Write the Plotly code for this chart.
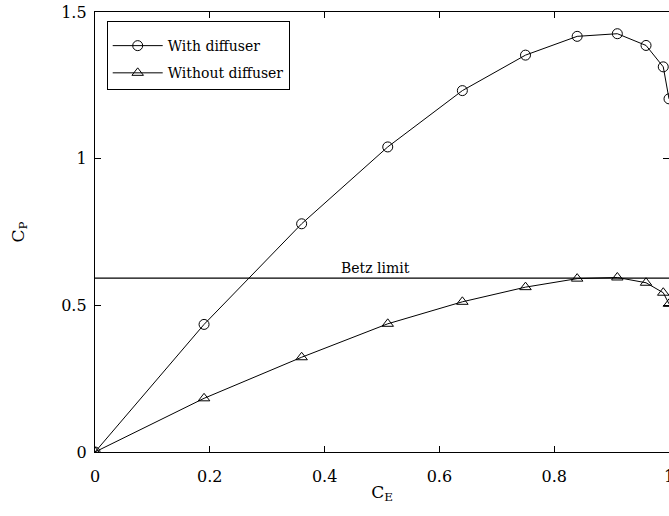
import plotly.graph_objects as go

# Data
ce = [0.0, 0.19, 0.36, 0.51, 0.64, 0.75, 0.84, 0.91, 0.96, 0.99, 1.0]
cp_with = [0.0, 0.435, 0.778, 1.04, 1.232, 1.353, 1.417, 1.426, 1.386, 1.313, 1.204]
cp_without = [0.0, 0.183, 0.323, 0.437, 0.512, 0.562, 0.591, 0.595, 0.577, 0.543, 0.505]
betz = 16 / 27
betz_x = [0.0, 1.0]
xticks = [0, 0.2, 0.4, 0.6, 0.8, 1]
xticklabels = ["0", "0.2", "0.4", "0.6", "0.8", "1"]
yticks = [0, 0.5, 1, 1.5]
yticklabels = ["0", "0.5", "1", "1.5"]

FONT = "DejaVu Serif"

fig = go.Figure()
fig.add_trace(go.Scatter(
    x=ce, y=cp_with, mode="lines+markers", name="With diffuser", legendgroup="a",
    line=dict(color="black", width=1),
    marker=dict(symbol="circle-open", size=10, color="black", line=dict(width=1)),
))
fig.add_trace(go.Scatter(
    x=ce, y=cp_without, mode="lines+markers", name="Without diffuser", legendgroup="b",
    line=dict(color="black", width=1),
    marker=dict(symbol="triangle-up-open", size=10, color="black", line=dict(width=1)),
))
fig.add_trace(go.Scatter(
    x=betz_x, y=[betz, betz], mode="lines", showlegend=False,
    line=dict(color="black", width=1.3), hoverinfo="skip",
))

fig.add_annotation(x=0.489, y=0.628, text="Betz limit", showarrow=False,
                   font=dict(family=FONT, size=14, color="black"))

axis_common = dict(
    showline=True, linecolor="black", linewidth=1.3, mirror="ticks",
    ticks="inside", ticklen=6, tickcolor="black", tickwidth=1,
    showgrid=False, zeroline=False, automargin=False,
    ticklabeloverflow="allow",
    tickfont=dict(family=FONT, size=16, color="black"),
)

fig.update_xaxes(range=[0, 1], tickvals=xticks, ticktext=xticklabels,
                 ticklabelstandoff=10,
                 title=dict(text="C<sub>E</sub>", font=dict(family=FONT, size=17, color="black"), standoff=0),
                 **axis_common)
fig.update_yaxes(range=[0, 1.5], tickvals=yticks, ticktext=yticklabels,
                 ticklabelstandoff=4,
                 title=dict(text="C<sub>P</sub>", font=dict(family=FONT, size=17, color="black"), standoff=32),
                 **axis_common)

fig.update_layout(
    width=669, height=516,
    margin=dict(l=95, r=0, t=12, b=64, pad=0),
    paper_bgcolor="white", plot_bgcolor="white",
    font=dict(family=FONT, color="black"),
    showlegend=True,
    legend=dict(x=0.0204, y=0.979, xanchor="left", yanchor="top",
                bordercolor="black", borderwidth=1, bgcolor="white",
                font=dict(family=FONT, size=14, color="black"),
                title=dict(text=" ", font=dict(size=6)),
                tracegroupgap=6, itemwidth=50),
)

fig.write_html("out.html")
